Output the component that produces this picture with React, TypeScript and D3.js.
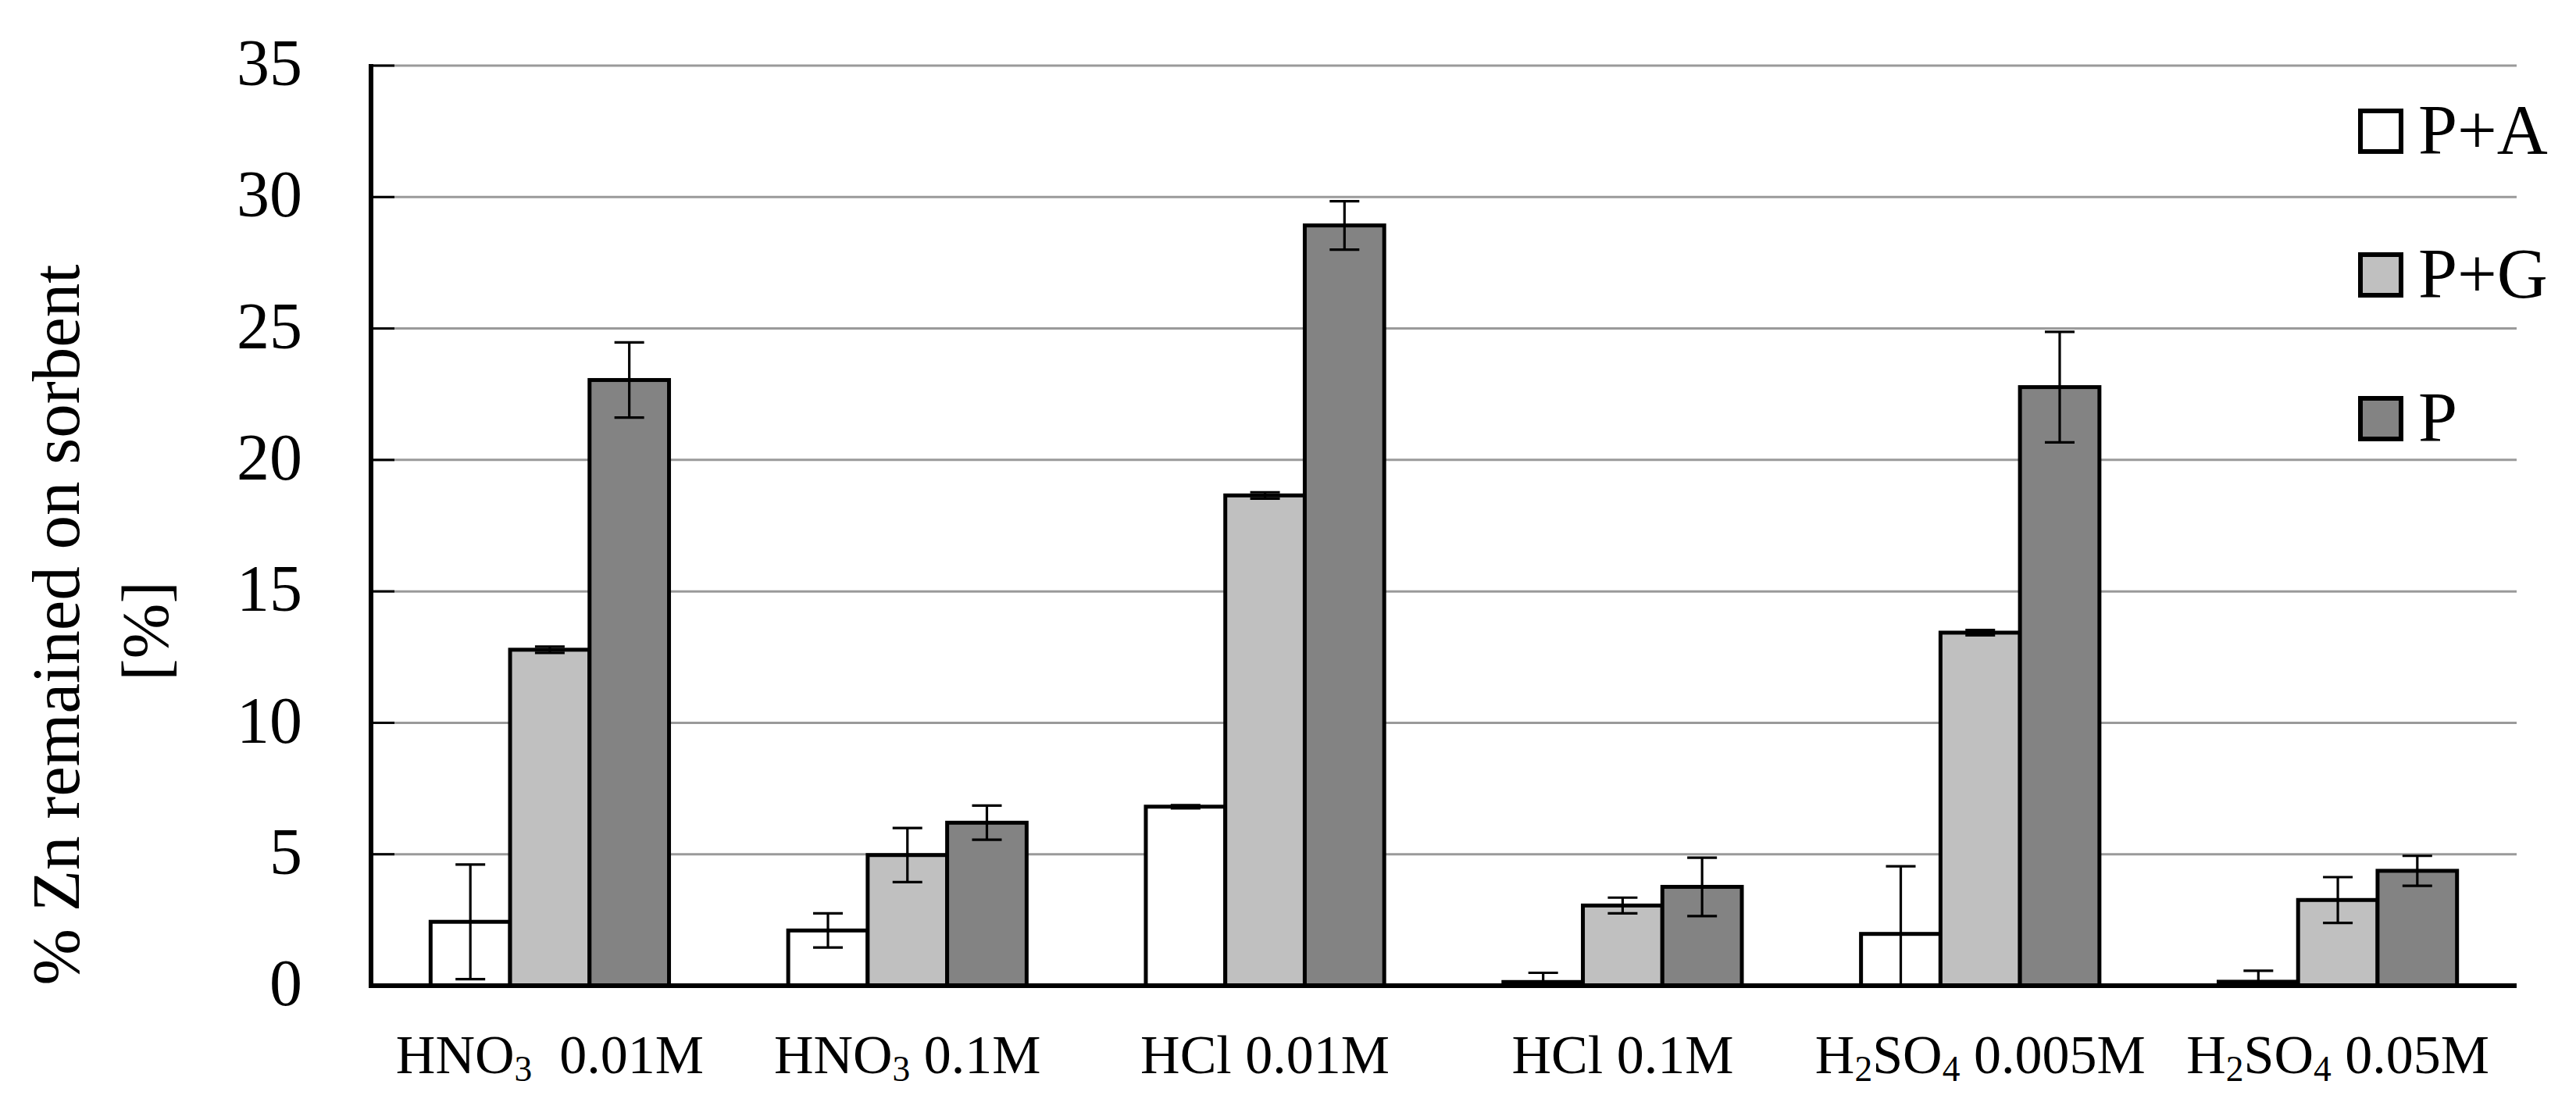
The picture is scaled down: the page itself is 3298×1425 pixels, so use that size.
import React from "react";
import * as d3 from "d3";

const categories = ["HNO₃  0.01M", "HNO₃ 0.1M", "HCl 0.01M", "HCl 0.1M", "H₂SO₄ 0.005M", "H₂SO₄ 0.05M"];
const seriesNames = ["P+A", "P+G", "P"];
const seriesColors = ["#ffffff", "#c0c0c0", "#838383"];
const valuesPA = [2.43, 2.1, 6.81, 0.14, 1.97, 0.15];
const errorsPA = [2.18, 0.65, 0.06, 0.35, 2.57, 0.42];
const valuesPG = [12.78, 4.97, 18.65, 3.05, 13.43, 3.26];
const errorsPG = [0.12, 1.03, 0.12, 0.3, 0.1, 0.87];
const valuesP = [23.04, 6.2, 28.92, 3.76, 22.77, 4.37];
const errorsP = [1.43, 0.65, 0.92, 1.11, 2.1, 0.57];
const yTicks = [0, 5, 10, 15, 20, 25, 30, 35];
const yTitle = "% Zn remained on sorbent";
const yTitle2 = "[%]";

const W = 3298, H = 1425;
const left = 475, right = 3222, top = 84, bottom = 1262;
const FONT = "'Liberation Serif', 'Times New Roman', serif";

const subMap: Record<string, string> = { "₀": "0", "₁": "1", "₂": "2", "₃": "3", "₄": "4", "₅": "5", "₆": "6", "₇": "7", "₈": "8", "₉": "9" };

function renderLabel(s: string) {
  const parts: { t: string; sub: boolean }[] = [];
  for (const ch of s) {
    const sub = ch in subMap;
    const c = sub ? subMap[ch] : ch;
    const last = parts[parts.length - 1];
    if (last && last.sub === sub) last.t += c;
    else parts.push({ t: c, sub });
  }
  const out: any[] = [];
  let wasSub = false;
  parts.forEach((p, i) => {
    if (p.sub) {
      out.push(<tspan key={i} fontSize="0.65em" dy="0.22em">{p.t}</tspan>);
      wasSub = true;
    } else {
      out.push(<tspan key={i} dy={wasSub ? "-0.143em" : undefined} style={{ whiteSpace: "pre" }}>{p.t}</tspan>);
      wasSub = false;
    }
  });
  return out;
}

export default function App() {
  const x0 = d3.scaleBand<string>().domain(categories).range([left, right]).paddingInner(0).paddingOuter(0);
  const x1 = d3.scaleBand<string>().domain(seriesNames).range([0, x0.bandwidth()]).paddingInner(0).paddingOuter(0.75);
  const y = d3.scaleLinear().domain([0, 35]).range([bottom, top]);

  const allValues = [valuesPA, valuesPG, valuesP];
  const allErrors = [errorsPA, errorsPG, errorsP];

  const bars: any[] = [];
  const errs: any[] = [];
  categories.forEach((c, ci) => {
    seriesNames.forEach((s, si) => {
      const v = allValues[si][ci];
      const e = allErrors[si][ci];
      const bx = (x0(c) as number) + (x1(s) as number);
      const bw = x1.bandwidth();
      bars.push(
        <rect key={`b${ci}-${si}`} x={bx} y={y(v)} width={bw} height={y(0) - y(v)}
          fill={seriesColors[si]} stroke="#000" strokeWidth={5} />
      );
      const cx = bx + bw / 2;
      const hi = v + e;
      const lo = v - e;
      const loC = Math.max(lo, 0);
      const cap = 19;
      errs.push(
        <g key={`e${ci}-${si}`} stroke="#000" strokeWidth={3.2}>
          <line x1={cx} x2={cx} y1={y(hi)} y2={y(loC)} />
          <line x1={cx - cap} x2={cx + cap} y1={y(hi)} y2={y(hi)} />
          {lo >= 0 && <line x1={cx - cap} x2={cx + cap} y1={y(lo)} y2={y(lo)} />}
        </g>
      );
    });
  });

  return (
    <svg width={W} height={H} style={{ position: "absolute", left: 0, top: 0, background: "#fff" }} fontFamily={FONT}>
      <rect x={0} y={0} width={W} height={H} fill="#fff" />
      {yTicks.filter((t) => t > 0).map((t) => (
        <line key={`g${t}`} x1={left} x2={right} y1={y(t)} y2={y(t)} stroke="#9a9a9a" strokeWidth={3} />
      ))}
      {yTicks.map((t) => (
        <line key={`t${t}`} x1={left} x2={left + 30} y1={y(t)} y2={y(t)} stroke="#000" strokeWidth={3} />
      ))}
      {bars}
      {errs}
      <line x1={left} x2={left} y1={top - 2} y2={bottom + 3} stroke="#000" strokeWidth={6} />
      <line x1={left - 3} x2={right} y1={bottom} y2={bottom} stroke="#000" strokeWidth={6} />
      {yTicks.map((t) => (
        <text key={`l${t}`} x={387} y={y(t)} dy="0.30em" textAnchor="end" fontSize={84} fill="#000">{t}</text>
      ))}
      {categories.map((c) => (
        <text key={`c${c}`} x={(x0(c) as number) + x0.bandwidth() / 2} y={1374} textAnchor="middle" fontSize={70} fill="#000" style={{ whiteSpace: "pre" }}>
          {renderLabel(c)}
        </text>
      ))}
      <text transform={`translate(101, 800) rotate(-90)`} textAnchor="middle" fontSize={87} fill="#000">{yTitle}</text>
      <text transform={`translate(215, 808) rotate(-90)`} textAnchor="middle" fontSize={85} fill="#000">{yTitle2}</text>
      {seriesNames.map((s, i) => (
        <g key={`lg${s}`}>
          <rect x={3022} y={142 + i * 184} width={52} height={52} fill={seriesColors[i]} stroke="#000" strokeWidth={6} />
          <text x={3096} y={197 + i * 184} fontSize={90} fill="#000">{s}</text>
        </g>
      ))}
    </svg>
  );
}
